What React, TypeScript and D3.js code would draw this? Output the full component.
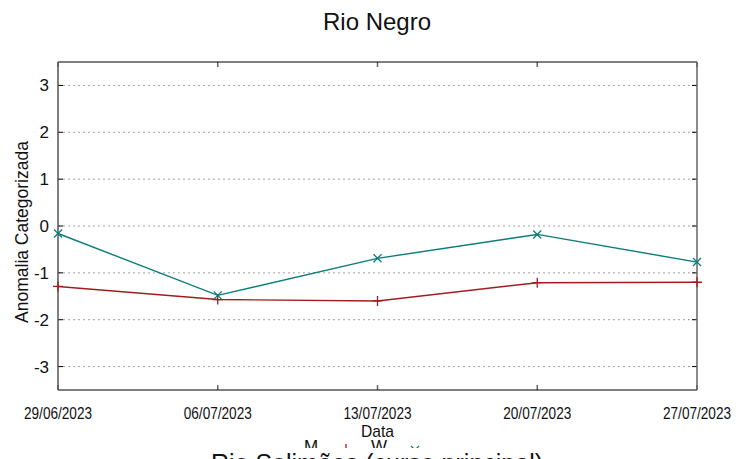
import { useEffect, useRef } from "react"
import * as d3 from "d3"

const dates = ["2023-06-29", "2023-07-06", "2023-07-13", "2023-07-20", "2023-07-27"]
const seriesM = [-1.29, -1.57, -1.6, -1.21, -1.2]
const seriesW = [-0.16, -1.48, -0.69, -0.18, -0.77]
const yTicks = [-3, -2, -1, 0, 1, 2, 3]
const title = "Rio Negro"
const nextTitle = "Rio Solimões (curso principal)"

const RED = "#a31c1c"
const TEAL = "#0b7b7b"
const FONT = "'Liberation Sans', Arial, sans-serif"

export default function App() {
  const ref = useRef<SVGSVGElement>(null)
  useEffect(() => {
    if (!ref.current) return
    const W = 753, H = 459
    const m = { top: 62, right: 56, bottom: 69, left: 58 }
    const svg = d3.select(ref.current)
    svg.selectAll("*").remove()
    svg.append("rect").attr("width", W).attr("height", H).attr("fill", "#fff")

    const parse = d3.timeParse("%Y-%m-%d")
    const xs = dates.map(d => parse(d)!)
    const x = d3.scaleTime().domain(d3.extent(xs) as [Date, Date]).range([m.left, W - m.right])
    const y = d3.scaleLinear().domain([-3.5, 3.5]).range([H - m.bottom, m.top])
    const x0 = m.left, x1 = W - m.right, y0 = H - m.bottom, y1 = m.top

    // grid
    svg.append("g").selectAll("line").data(yTicks).join("line")
      .attr("x1", x0).attr("x2", x1).attr("y1", d => y(d)).attr("y2", d => y(d))
      .attr("stroke", "#a0a0a0").attr("stroke-width", 1).attr("stroke-dasharray", "2,3")

    // ticks
    const tk = svg.append("g")
    tk.selectAll("line.l").data(yTicks).join("line").attr("class", "l")
      .attr("x1", x0).attr("x2", x0 + 5).attr("y1", d => y(d)).attr("y2", d => y(d)).attr("stroke", "#000")
    tk.selectAll("line.r").data(yTicks).join("line").attr("class", "r")
      .attr("x1", x1 - 5).attr("x2", x1).attr("y1", d => y(d)).attr("y2", d => y(d)).attr("stroke", "#000")
    tk.selectAll("line.b").data(xs).join("line").attr("class", "b")
      .attr("x1", d => x(d)).attr("x2", d => x(d)).attr("y1", y0).attr("y2", y0 - 5).attr("stroke", "#666").attr("stroke-width", 1.5)
    tk.selectAll("line.t").data(xs).join("line").attr("class", "t")
      .attr("x1", d => x(d)).attr("x2", d => x(d)).attr("y1", y1).attr("y2", y1 + 5).attr("stroke", "#666").attr("stroke-width", 1.5)

    // border
    svg.append("line").attr("x1", x0).attr("x2", x1).attr("y1", y1).attr("y2", y1).attr("stroke", "#000").attr("stroke-width", 1.2)
    svg.append("line").attr("x1", x0).attr("x2", x1).attr("y1", y0).attr("y2", y0).attr("stroke", "#000").attr("stroke-width", 1.2)
    svg.append("line").attr("x1", x0).attr("x2", x0).attr("y1", y1).attr("y2", y0).attr("stroke", "#555").attr("stroke-width", 1.5)
    svg.append("line").attr("x1", x1).attr("x2", x1).attr("y1", y1).attr("y2", y0).attr("stroke", "#666").attr("stroke-width", 1.5)

    // y tick labels
    svg.append("g").selectAll("text").data(yTicks).join("text")
      .attr("x", x0 - 9).attr("y", d => y(d) + 6).attr("text-anchor", "end")
      .style("font-family", FONT).style("font-size", "17px").attr("fill", "#111").text(d => d)

    // x tick labels
    const fmt = d3.timeFormat("%d/%m/%Y")
    svg.append("g").selectAll("text").data(xs).join("text")
      .attr("x", d => x(d)).attr("y", 419).attr("text-anchor", "middle")
      .attr("textLength", 68).attr("lengthAdjust", "spacingAndGlyphs")
      .style("font-family", FONT).style("font-size", "16px").attr("fill", "#111").text(d => fmt(d))

    // axis labels
    svg.append("text").attr("x", (x0 + x1) / 2).attr("y", 437).attr("text-anchor", "middle")
      .attr("textLength", 33).attr("lengthAdjust", "spacingAndGlyphs")
      .style("font-family", FONT).style("font-size", "17px").attr("fill", "#111").text("Data")
    svg.append("text").attr("transform", `translate(28,${(y0 + y1) / 2 + 6}) rotate(-90)`).attr("text-anchor", "middle")
      .style("font-family", FONT).style("font-size", "17.5px").attr("fill", "#111").text("Anomalia Categorizada")

    // title
    svg.append("text").attr("x", 377).attr("y", 30).attr("text-anchor", "middle")
      .style("font-family", FONT).style("font-size", "24px").attr("fill", "#111").text(title)

    // series
    const pts = (vals: number[]) => vals.map((v, i) => [x(xs[i]), y(v)] as [number, number])
    const line = d3.line()
    const pm = pts(seriesM), pw = pts(seriesW)
    svg.append("path").attr("d", line(pm)).attr("fill", "none").attr("stroke", RED).attr("stroke-width", 1.4)
    svg.append("path").attr("d", line(pw)).attr("fill", "none").attr("stroke", TEAL).attr("stroke-width", 1.4)
    const s = 5
    svg.append("g").selectAll("path").data(pm).join("path")
      .attr("d", ([a, b]) => `M${a - s},${b}H${a + s}M${a},${b - s}V${b + s}`)
      .attr("stroke", RED).attr("stroke-width", 1.3)
    svg.append("g").selectAll("path").data(pw).join("path")
      .attr("d", ([a, b]) => `M${a - 4},${b - 4}L${a + 4},${b + 4}M${a - 4},${b + 4}L${a + 4},${b - 4}`)
      .attr("stroke", TEAL).attr("stroke-width", 1.3)

    // legend (clipped by the next panel)
    svg.append("text").attr("x", 311).attr("y", 452).attr("text-anchor", "middle")
      .style("font-family", FONT).style("font-size", "17px").attr("fill", "#111").text("M")
    svg.append("path").attr("d", "M346,444V456M340,450H352").attr("stroke", RED).attr("stroke-width", 1.3)
    svg.append("text").attr("x", 379).attr("y", 452).attr("text-anchor", "middle")
      .style("font-family", FONT).style("font-size", "17px").attr("fill", "#111").text("W")
    svg.append("path").attr("d", "M411,446L419,454M411,454L419,446").attr("stroke", TEAL).attr("stroke-width", 1.3)
    svg.append("rect").attr("x", 300).attr("y", 448).attr("width", 130).attr("height", 11).attr("fill", "#fff")

    // next panel title, cut off
    svg.append("text").attr("x", 377).attr("y", 472).attr("text-anchor", "middle")
      .style("font-family", FONT).style("font-size", "25px").attr("fill", "#111").text(nextTitle)
  }, [])
  return (
    <div style={{ position: "fixed", left: 0, top: 0 }}>
      <svg ref={ref} width={753} height={459} style={{ display: "block" }} />
    </div>
  )
}
